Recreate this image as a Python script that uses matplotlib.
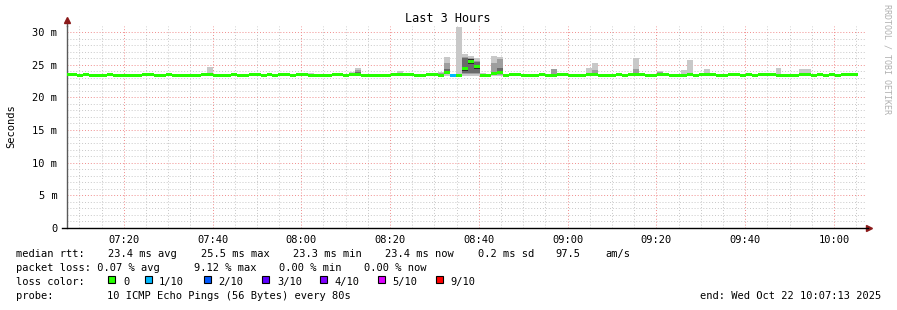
import datetime as dt
import re

import matplotlib
matplotlib.use("Agg")
import matplotlib.dates as mdates
import matplotlib.pyplot as plt
from matplotlib.patches import Rectangle
from matplotlib.ticker import FixedLocator, FuncFormatter

W, H = 897, 310
MONO = "DejaVu Sans Mono"

day = dt.datetime(2025, 10, 22)
t_start = day.replace(hour=7, minute=7, second=13)
t_end = day.replace(hour=10, minute=7, second=13)
first_sample = day.replace(hour=7, minute=6, second=50)
step_s = 80

# median rtt per 80 s sample, ms
median_ms = [
    23.45, 23.45, 23.3, 23.45, 23.3, 23.3, 23.3, 23.45, 23.3, 23.3,
    23.3, 23.3, 23.3, 23.45, 23.45, 23.3, 23.3, 23.45, 23.3, 23.3,
    23.3, 23.3, 23.3, 23.45, 23.45, 23.3, 23.3, 23.3, 23.45, 23.3,
    23.3, 23.45, 23.45, 23.3, 23.45, 23.3, 23.45, 23.45, 23.3, 23.45,
    23.45, 23.3, 23.3, 23.3, 23.3, 23.45, 23.45, 23.3, 23.45, 23.45,
    23.3, 23.3, 23.3, 23.3, 23.3, 23.45, 23.45, 23.45, 23.45, 23.3,
    23.3, 23.45, 23.45, 23.3, 23.8, 23.25, 23.35, 24.4, 25.5, 24.7,
    23.3, 23.3, 23.6, 23.8, 23.3, 23.45, 23.45, 23.3, 23.3, 23.3,
    23.45, 23.3, 23.3, 23.45, 23.45, 23.3, 23.3, 23.3, 23.45, 23.45,
    23.3, 23.3, 23.3, 23.45, 23.3, 23.45, 23.45, 23.45, 23.3, 23.3,
    23.45, 23.45, 23.3, 23.3, 23.3, 23.45, 23.3, 23.45, 23.45, 23.45,
    23.3, 23.3, 23.45, 23.45, 23.3, 23.45, 23.3, 23.45, 23.45, 23.45,
    23.3, 23.3, 23.3, 23.3, 23.45, 23.45, 23.3, 23.45, 23.3, 23.45,
    23.3, 23.45, 23.45, 23.45,
]
# samples with packet loss (tenths lost)
loss_idx = [65]
loss_tenths = [1]

# smoke bands: (sample, low ms, high ms)
smoke_light = [
    (24, 23.3, 24.6), (41, 23.3, 23.7), (45, 23.3, 23.7), (48, 23.3, 23.9), (49, 23.3, 24.5),
    (56, 23.3, 24.0), (58, 23.3, 23.7), (63, 23.3, 23.9), (64, 23.3, 26.2), (65, 23.2, 23.5),
    (66, 23.3, 30.7), (67, 23.3, 26.6), (68, 23.3, 26.3), (69, 23.3, 26.0), (70, 23.3, 23.7),
    (71, 23.3, 23.6), (72, 23.3, 26.3), (73, 23.3, 26.1), (82, 23.3, 24.3), (84, 23.3, 23.7),
    (88, 23.3, 24.5), (89, 23.3, 25.2), (93, 23.3, 23.7), (95, 23.3, 23.5), (96, 23.3, 26.0),
    (97, 23.3, 23.5), (100, 23.3, 24.0), (104, 23.3, 24.2), (105, 23.3, 25.7), (108, 23.3, 24.3),
    (120, 23.3, 24.5), (124, 23.3, 24.3), (125, 23.3, 24.3), (126, 23.3, 23.6), (133, 23.3, 23.7),
]
smoke_mid = [
    (48, 23.3, 23.8), (49, 23.3, 24.2), (63, 23.3, 23.7), (64, 23.5, 25.2), (67, 23.5, 26.2),
    (68, 23.5, 26.0), (69, 23.5, 25.6), (72, 23.4, 25.3), (73, 23.4, 25.9), (82, 23.3, 24.3),
    (89, 23.3, 24.2), (96, 23.3, 24.4), (100, 23.3, 23.9),
]
smoke_dark = [
    (49, 23.3, 23.9), (64, 23.6, 24.4), (67, 23.7, 26.0), (68, 23.8, 25.8), (69, 23.7, 25.4),
    (72, 23.4, 23.9), (73, 23.5, 24.5),
]
smoke_black = [(64, 23.7, 24.0), (67, 24.1, 24.7), (68, 25.1, 25.9), (69, 24.3, 25.0), (73, 23.5, 23.9)]

loss_labels = ["0", "1/10", "2/10", "3/10", "4/10", "5/10", "9/10"]
loss_colors = ["#26ff00", "#00b8ff", "#0059ff", "#5e00ff", "#7e00ff", "#dd00ff", "#ff0000"]

legend_lines = [
    "median rtt:  23.4 ms avg  25.5 ms max  23.3 ms min  23.4 ms now  0.2 ms sd  97.5   am/s",
    "packet loss: 0.07 % avg  9.12 % max  0.00 % min  0.00 % now",
]
probe_text = "10 ICMP Echo Pings (56 Bytes) every 80s"
end_text = "end: Wed Oct 22 10:07:13 2025"

plt.rcParams["font.family"] = MONO

fig = plt.figure(figsize=(W / 100, H / 100), dpi=100)
ax = fig.add_axes([67 / W, 82 / H, 799 / W, 202 / H])

x_left = [mdates.date2num(first_sample + dt.timedelta(seconds=step_s * k)) for k in range(len(median_ms))]
bw = step_s / 86400.0


def draw_smoke(bands, color):
    xs = [x_left[k] for k, lo, hi in bands]
    ax.bar(xs, [hi - lo for k, lo, hi in bands], width=bw, bottom=[lo for k, lo, hi in bands],
           align="edge", color=color, linewidth=0, zorder=2)


draw_smoke(smoke_light, "#c8c8c8")
draw_smoke(smoke_mid, "#9e9e9e")
draw_smoke(smoke_dark, "#6a6a6a")
draw_smoke(smoke_black, "#2a2a2a")

colors = [loss_colors[0]] * len(median_ms)
for k, lv in zip(loss_idx, loss_tenths):
    colors[k] = loss_colors[lv]
thick = 0.45
ax.bar(x_left, [thick] * len(median_ms), width=bw, bottom=[m - 0.2 for m in median_ms],
       align="edge", color=colors, linewidth=0, zorder=3)

ax.set_xlim(mdates.date2num(t_start), mdates.date2num(t_end))
ax.set_ylim(0, 30.92)

ax.xaxis.set_major_locator(mdates.MinuteLocator(byminute=[0, 20, 40]))
ax.xaxis.set_minor_locator(mdates.MinuteLocator(byminute=[5, 10, 15, 25, 30, 35, 45, 50, 55]))
ax.xaxis.set_major_formatter(mdates.DateFormatter("%H:%M"))
ax.yaxis.set_major_locator(FixedLocator([0, 5, 10, 15, 20, 25, 30]))
ax.yaxis.set_minor_locator(FixedLocator([v for v in range(31) if v % 5]))
ax.yaxis.set_major_formatter(FuncFormatter(lambda v, p: "0" if v == 0 else "%d m" % v))

ax.grid(which="minor", color="#c8c8c8", linestyle=(0, (1, 2)), linewidth=0.7)
ax.grid(which="major", color="#f08c8c", linestyle=(0, (1, 2)), linewidth=0.7)
ax.set_axisbelow(True)

ax.tick_params(which="both", length=0, labelsize=7.5, colors="#000000")
ax.tick_params(axis="y", pad=7)
ax.tick_params(axis="x", pad=5)

for s in ["top", "right", "bottom"]:
    ax.spines[s].set_visible(False)
ax.spines["left"].set_color("#5a5a5a")
ax.spines["left"].set_linewidth(1.0)
ax.plot([-0.006, 1.003], [0, 0], transform=ax.transAxes, color="#000000", lw=1.0, clip_on=False, zorder=5)
ax.plot([0, 0], [1.0, 1.02], transform=ax.transAxes, color="#5a5a5a", lw=1.0, clip_on=False)
ax.plot(0, 1.03, marker="^", markersize=4, color="#8b1a1a", transform=ax.transAxes, clip_on=False)
ax.plot(1.004, 0, marker=">", markersize=4, color="#8b1a1a", transform=ax.transAxes, clip_on=False)

fig.text(448 / W, 1 - 19 / H, "Last 3 Hours", ha="center", va="center", fontsize=8.5)
fig.text(11 / W, 1 - 126 / H, "Seconds", rotation=90, ha="center", va="center", fontsize=7.5)
fig.text(887 / W, 1 - 4 / H, "RRDTOOL / TOBI OETIKER", rotation=270, ha="center", va="top",
         fontsize=6, color="#b0b0b0")


def put(x, y, s, ha="left"):
    fig.text(x / W, 1 - y / H, s, ha=ha, va="center", fontsize=7.5)


def put_line(y, line, x0=16, pitch=7.1):
    # fields separated by two or more spaces keep their column position
    for m in re.finditer(r"\S+(?: \S+)*", line):
        put(x0 + m.start() * pitch, y, m.group())


put_line(254, legend_lines[0])
put_line(268, legend_lines[1])
put_line(282, "loss color:")
box_x = [108, 145, 204, 262, 320, 378, 436]
lab_x = [123, 159, 218, 277, 334, 392, 450]
for bx, lx, lab, c in zip(box_x, lab_x, loss_labels, loss_colors):
    fig.add_artist(Rectangle((bx / W, 1 - 283 / H), 7 / W, 7 / H, transform=fig.transFigure,
                             facecolor=c, edgecolor="#000000", linewidth=0.8))
    put(lx, 282, lab)
put_line(296, "probe:")
put_line(296, probe_text, x0=107)
put(881, 296, end_text, ha="right")

fig.savefig("out.png", dpi=100)
